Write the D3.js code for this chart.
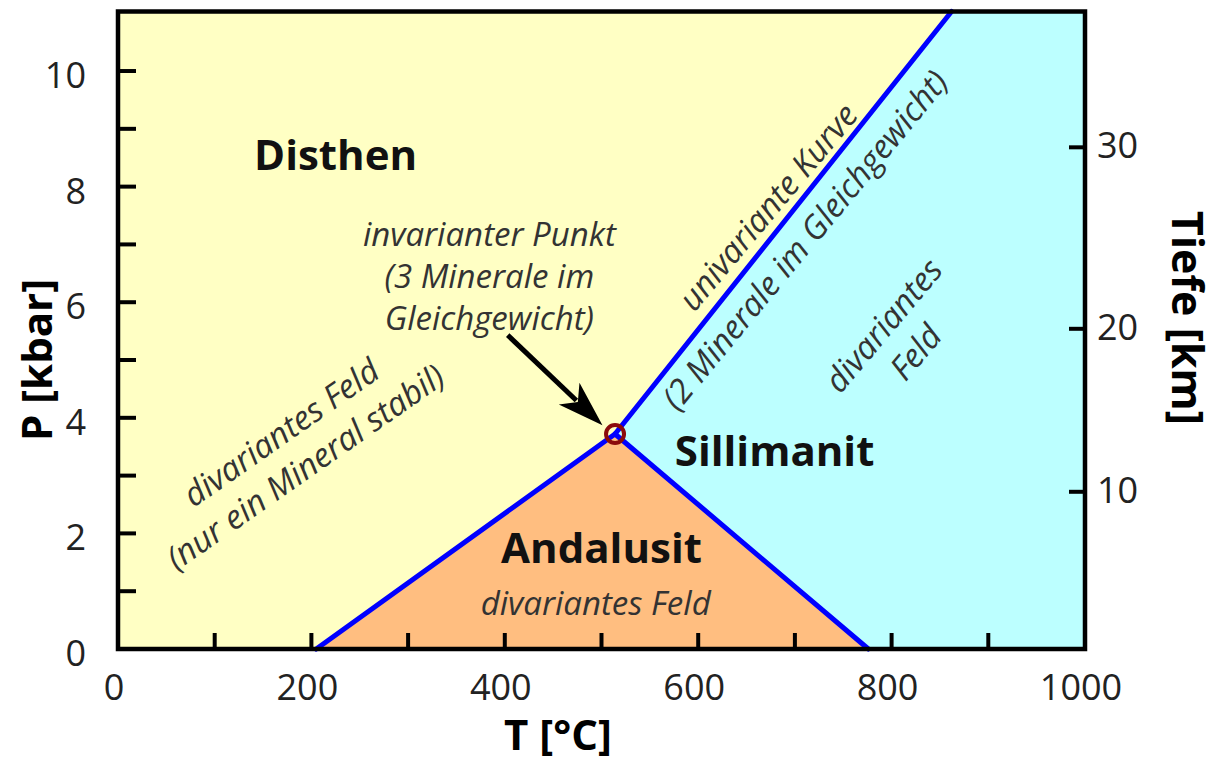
<!DOCTYPE html>
<html>
<head>
<meta charset="utf-8">
<script src="https://cdn.jsdelivr.net/npm/d3@7"></script>
<style>
  body { margin: 0; background: #fff; }
  svg { display: block; font-family: "Open Sans", sans-serif; }
</style>
</head>
<body>
<svg id="chart" width="1220" height="762"></svg>
<script>
// Phase boundaries of Al2SiO5 (T in degC, P in kbar)
const triplePoint = { T: 514, P: 3.72 };
const kyAnd = [{ T: 205, P: 0 }, triplePoint];          // Disthen / Andalusit
const andSil = [triplePoint, { T: 776, P: 0 }];          // Andalusit / Sillimanit
const kySil = [triplePoint, { T: 862, P: 11.03 }];       // Disthen / Sillimanit

const tTicks = [0, 100, 200, 300, 400, 500, 600, 700, 800, 900, 1000];
const tLabels = [0, 200, 400, 600, 800, 1000];
const pTicks = [1, 2, 3, 4, 5, 6, 7, 8, 9, 10];
const pLabels = [0, 2, 4, 6, 8, 10];
const depthKm = [10, 20, 30];
const depthKbar = [2.72, 5.54, 8.68];   // pressure at which each depth tick sits

const boldLabels = [
  { text: "Disthen", T: 225, P: 8.55 },
  { text: "Sillimanit", T: 679, P: 3.42 },
  { text: "Andalusit", T: 500, P: 1.75 }
];
const italicLabels = [
  { lines: ["divariantes Feld"], T: 494, P: 0.80, angle: 0 },
  { lines: ["invarianter Punkt", "(3 Minerale im", "Gleichgewicht)"], T: 384, P: 6.46, angle: 0 },
  { lines: ["divariantes Feld", "(nur ein Mineral stabil)"], T: 181, P: 3.45, angle: -35 },
  { lines: ["univariante Kurve"], T: 672, P: 7.65, angle: -50 },
  { lines: ["(2 Minerale im Gleichgewicht)"], T: 710, P: 7.08, angle: -50.5 },
  { lines: ["divariantes", "Feld"], T: 808, P: 5.37, angle: -50 }
];
const arrowFrom = { T: 403, P: 5.43 };
const arrowTo = { T: 501, P: 3.87 };

const svg = d3.select("#chart");

const x = d3.scaleLinear().domain([0, 1000]).range([118, 1085]);
const y = d3.scaleLinear().domain([0, 11.03]).range([649, 11.5]);
const depth = d3.scaleLinear().domain(depthKm).range(depthKbar);

const Tmax = 1000, Pmax = 11.03;

// background fields
const poly = d3.line().x(d => x(d.T)).y(d => y(d.P));
svg.append("path")
    .attr("d", poly([{ T: 0, P: 0 }, { T: Tmax, P: 0 }, { T: Tmax, P: Pmax }, { T: 0, P: Pmax }]) + "Z")
    .attr("fill", "#ffffc4");
svg.append("path")
    .attr("d", poly([kyAnd[0], triplePoint, andSil[1]]) + "Z")
    .attr("fill", "#ffbe80");
svg.append("path")
    .attr("d", poly([andSil[1], triplePoint, kySil[1], { T: Tmax, P: Pmax }, { T: Tmax, P: 0 }]) + "Z")
    .attr("fill", "#bcffff");

// boundary curves
[kyAnd, andSil, kySil].forEach(seg => {
  svg.append("path")
      .attr("d", poly(seg))
      .attr("fill", "none")
      .attr("stroke", "#0000ff")
      .attr("stroke-width", 5)
      .attr("stroke-linecap", "round");
});

// ticks (inward)
svg.append("g").selectAll("line")
    .data(tTicks.slice(1, -1))
    .join("line")
      .attr("x1", d => x(d)).attr("x2", d => x(d))
      .attr("y1", y(0)).attr("y2", y(0) - 16)
      .attr("stroke", "#000").attr("stroke-width", 4);

svg.append("g").selectAll("line")
    .data(pTicks)
    .join("line")
      .attr("x1", x(0)).attr("x2", x(0) + 18)
      .attr("y1", d => y(d)).attr("y2", d => y(d))
      .attr("stroke", "#000").attr("stroke-width", 4);

svg.append("g").selectAll("line")
    .data(depthKm)
    .join("line")
      .attr("x1", x(Tmax)).attr("x2", x(Tmax) - 16)
      .attr("y1", d => y(depth(d))).attr("y2", d => y(depth(d)))
      .attr("stroke", "#000").attr("stroke-width", 4);

// frame
svg.append("rect")
    .attr("x", x(0)).attr("y", y(Pmax))
    .attr("width", x(Tmax) - x(0)).attr("height", y(0) - y(Pmax))
    .attr("fill", "none").attr("stroke", "#000").attr("stroke-width", 4.5);

// tick labels
svg.append("g").selectAll("text")
    .data(tLabels)
    .join("text")
      .attr("x", d => x(d) - 4)
      .attr("y", y(0) + 51)
      .attr("text-anchor", "middle")
      .attr("font-size", 36)
      .attr("fill", "#222")
      .text(d => d);

svg.append("g").selectAll("text")
    .data(pLabels)
    .join("text")
      .attr("x", 86)
      .attr("y", d => y(d) + 17)
      .attr("text-anchor", "end")
      .attr("font-size", 36)
      .attr("fill", "#222")
      .text(d => d);

svg.append("g").selectAll("text")
    .data(depthKm)
    .join("text")
      .attr("x", 1097)
      .attr("y", d => y(depth(d)) + 11)
      .attr("text-anchor", "start")
      .attr("font-size", 36)
      .attr("fill", "#222")
      .text(d => d);

// axis titles
svg.append("text")
    .attr("x", 558).attr("y", 750)
    .attr("text-anchor", "middle")
    .attr("font-size", 42).attr("font-weight", "bold")
    .text("T [°C]");
svg.append("text")
    .attr("transform", "translate(52,360) rotate(-90)")
    .attr("text-anchor", "middle")
    .attr("font-size", 42).attr("font-weight", "bold")
    .text("P [kbar]");
svg.append("text")
    .attr("transform", "translate(1172,318) rotate(90)")
    .attr("text-anchor", "middle")
    .attr("font-size", 43).attr("font-weight", "bold")
    .text("Tiefe [km]");

// mineral names
svg.append("g").selectAll("text")
    .data(boldLabels)
    .join("text")
      .attr("x", d => x(d.T))
      .attr("y", d => y(d.P))
      .attr("dy", "0.36em")
      .attr("text-anchor", "middle")
      .attr("font-size", 42).attr("font-weight", "bold")
      .attr("fill", "#111")
      .text(d => d.text);

// italic notes
const lineGap = 42;
italicLabels.forEach(lab => {
  const g = svg.append("g")
      .attr("transform", `translate(${x(lab.T)},${y(lab.P)}) rotate(${lab.angle})`);
  const n = lab.lines.length;
  g.selectAll("text")
      .data(lab.lines)
      .join("text")
        .attr("x", 0)
        .attr("y", (d, i) => (i - (n - 1) / 2) * lineGap)
        .attr("dy", "0.36em")
        .attr("text-anchor", "middle")
        .attr("font-size", 33)
        .attr("font-style", "italic")
        .attr("fill", "#333")
        .text(d => d);
});

// arrow to the invariant point
const ax0 = x(arrowFrom.T), ay0 = y(arrowFrom.P);
const ax1 = x(arrowTo.T), ay1 = y(arrowTo.P);
const len = Math.hypot(ax1 - ax0, ay1 - ay0);
const ux = (ax1 - ax0) / len, uy = (ay1 - ay0) / len;
const headLen = 46, headHalf = 15;
const bx = ax1 - ux * headLen, by = ay1 - uy * headLen;
svg.append("line")
    .attr("x1", ax0).attr("y1", ay0)
    .attr("x2", bx + ux * 10).attr("y2", by + uy * 10)
    .attr("stroke", "#000").attr("stroke-width", 5);
svg.append("path")
    .attr("d", `M${ax1},${ay1}L${bx - uy * headHalf},${by + ux * headHalf}L${bx + ux * 12},${by + uy * 12}L${bx + uy * headHalf},${by - ux * headHalf}Z`)
    .attr("fill", "#000");

// invariant point marker
svg.append("circle")
    .attr("cx", x(triplePoint.T)).attr("cy", y(triplePoint.P))
    .attr("r", 9)
    .attr("fill", "none")
    .attr("stroke", "#8b0b0b")
    .attr("stroke-width", 4);
</script>
</body>
</html>
